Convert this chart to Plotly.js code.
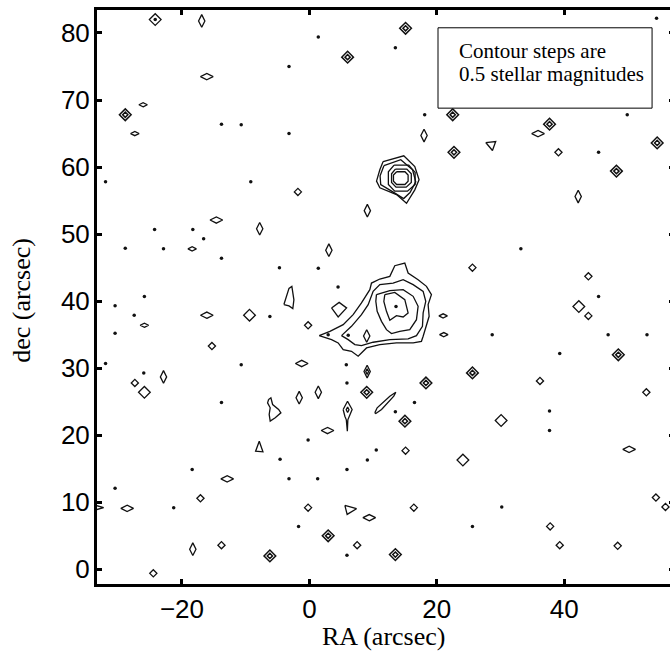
<!DOCTYPE html>
<html><head><meta charset="utf-8">
<script src="https://cdn.plot.ly/plotly-3.0.1.min.js"></script>
<style>html,body{margin:0;padding:0;overflow:hidden;background:#fff}#plot{width:674px;height:658px}</style>
</head><body><div id="plot"></div>
<script>
// ---- data (arcsec) ----
const xTicks = [-20, 0, 20, 40];
const yTicks = [0, 10, 20, 30, 40, 50, 60, 70, 80];

// isolated unresolved peaks (single tiny contour)
const dotX = [-3.2,-13.8,-10.7,-3.2,-32.0,-9.2,-24.3,-18.3,-16.6,-28.9,-22.9,-13.8,-4.7,-25.9,1.4,13.5,18.1,1.4,4.5,6.1,5.8,5.9,16.5,13.5,-0.2,10.5,9.1,5.9,1.3,-1.7,25.6,5.9,-30.5,-27.5,-6.2,-30.5,-10.7,-32.0,-13.8,-4.6,-18.4,-3.2,-30.5,-21.3,49.9,45.4,33.2,45.4,28.7,46.9,53.0,39.3,37.7,37.7,30.2,-26.0,54.5,13.6,2.95,-24.2];
const dotY = [75.0,66.4,66.3,65.0,57.8,57.8,50.7,50.7,49.3,47.9,47.8,46.4,45.0,40.7,79.4,77.8,67.8,44.9,42.1,34.9,30.5,27.8,24.9,23.5,19.3,17.8,16.3,14.9,13.5,6.4,6.4,2.1,39.3,37.9,37.7,35.2,30.5,30.7,24.9,16.4,14.9,13.5,12.1,9.2,67.8,62.2,47.8,40.7,35.0,35.0,35.0,32.2,23.6,20.7,9.3,29.3,82.2,39.2,35.0,82.0];

// small single closed contours
const loopX = [-1.8,-0.2,15.1,-0.2,16.4,7.5,-27.4,-17.1,-13.8,-24.5,39.1,25.6,43.8,43.8,36.2,52.9,54.4,55.9,37.8,39.3,48.4,-15.3];
const loopY = [56.3,36.4,17.7,9.2,9.2,3.6,27.8,10.6,3.6,-0.6,62.2,45.0,43.7,37.8,28.1,26.4,10.7,9.3,6.4,3.6,3.5,33.3];

// small flattened contours
const flatX = [-26.1,-27.4,-18.4,21.0,21.1,-25.9];
const flatY = [69.3,65.0,47.8,37.8,35.0,36.4];

// medium single contours
const midX = [-24.2,24.1,-25.9,30.1,-9.4,42.3];
const midY = [82.0,16.3,26.4,22.2,37.9,39.2];

// two nested contours
const dblX = [-28.9,15.1,6.0,22.5,22.7,9.0,18.3,15.0,2.95,13.5,-6.2,37.7,54.6,48.2,48.5,25.6];
const dblY = [67.8,80.7,76.4,67.8,62.2,26.4,27.8,22.1,5.0,2.2,2.0,66.4,63.6,59.4,32.0,29.3];

// vertically elongated contours
const tallX = [18.0,42.2,-22.9,-18.3,-16.9,3.06,-1.6,9.0,-7.8,9.1,1.4,9.07];
const tallY = [64.7,55.6,28.7,3.0,81.8,47.6,25.6,34.8,50.8,53.5,26.4,29.5];
const tallInnerX = [9.07,6.0];
const tallInnerY = [29.5,23.8];

// horizontally elongated contours
const wideX = [-16.1,-14.6,-16.1,-1.2,-12.9,-28.6,2.85,9.4,35.9,50.2];
const wideY = [73.5,52.1,37.9,30.7,13.5,9.1,20.7,7.7,65.0,17.9];

// extended source near (14, 40): four contour levels
const galaxy1 = [[1.54,34.86],[3.22,35.5],[5.31,36.5],[6.87,37.99],[8.18,39.73],[9.49,41.71],[9.75,42.7],[11.06,43.3],[12.63,43.7],[13.41,45.29],[14.98,45.68],[15.5,44.19],[17.07,43.2],[18.38,42.21],[19.16,40.97],[18.64,39.48],[18.8,37.74],[18.38,36.25],[17.86,34.76],[17.59,34.01],[16.29,33.77],[13.67,33.77],[11.06,33.52],[8.97,33.02],[7.66,31.78],[6.61,32.52],[5.31,32.77],[4.52,33.77],[3.48,34.26],[1.54,34.86]];
const galaxy2 = [[5.04,34.86],[6.61,36.25],[8.18,37.99],[9.23,39.48],[10.01,41.46],[11.06,42.46],[13.15,42.7],[14.72,43.2],[16.29,42.46],[17.86,41.46],[18.27,39.97],[17.86,38.24],[17.75,36.25],[16.81,34.86],[15.5,34.36],[12.63,34.26],[10.01,33.87],[8.18,33.37],[7.14,33.52],[6.09,34.26],[5.04,34.86]];
const galaxy3 = [[10.53,40.97],[12.63,41.56],[14.72,41.71],[16.29,40.72],[17.07,39.23],[16.81,37.24],[15.76,35.75],[14.19,35.5],[12.89,35.16],[12.1,35.75],[11.32,36.99],[10.64,38.48],[10.43,39.97],[10.53,40.97]];
const galaxy4 = [[11.84,40.97],[13.41,41.31],[14.98,40.22],[15.5,38.24],[14.72,37.64],[13.67,37.84],[12.63,37.14],[12.1,38.48],[11.69,39.97],[11.84,40.97]];

// bright star near (14, 58): five contour levels
const star1 = [[11.58,60.83],[14.82,61.68],[16.55,60.08],[17.22,58.1],[16.55,56.6],[15.25,54.6],[13.68,55.9],[11.06,56.9],[10.54,57.9],[11.06,59.6],[11.58,60.83]];
const star2 = [[11.7,60.2],[14.35,61.1],[16.2,59.6],[16.7,57.8],[15.8,56.2],[14.8,55.3],[13.1,56.3],[11.2,57.4],[11.1,58.7],[11.7,60.2]];
const star3 = [[13.3,60.3],[15.6,60.3],[16.6,59.2],[16.6,57.4],[15.4,56.4],[13.4,56.4],[12.4,57.4],[12.4,59.3],[13.3,60.3]];
const star4 = [[13.5,59.7],[15.3,59.7],[16.0,59.0],[16.0,57.7],[15.2,57.0],[13.6,57.0],[12.9,57.7],[12.9,59.0],[13.5,59.7]];
const star5 = [[13.7,59.3],[15.0,59.3],[15.5,58.8],[15.5,57.9],[15.0,57.4],[13.7,57.4],[13.2,57.9],[13.2,58.8],[13.7,59.3]];

// irregular single contours
const kiteA = [[3.48,38.99],[4.67,39.82],[5.84,38.99],[4.52,37.65],[3.48,38.99]];
const leafA = [[-4.0,39.5],[-3.2,41.9],[-2.75,42.2],[-2.43,40.2],[-2.6,38.9],[-3.2,39.3],[-4.0,39.5]];
const lobeA = [[-6.4,25.33],[-6.04,25.58],[-5.77,24.58],[-4.83,23.84],[-4.47,23.34],[-5.36,22.6],[-6.15,22.1],[-6.31,23.1],[-6.15,24.09],[-6.56,24.83],[-6.4,25.33]];
const triA = [[-7.87,19.11],[-7.29,17.53],[-8.44,17.62],[-7.87,19.11]];
const triB = [[5.57,9.53],[7.4,9.04],[5.93,8.19],[5.57,9.53]];
const triC = [[27.69,63.66],[29.25,63.81],[28.74,62.47],[27.69,63.66]];
const streakA = [[10.27,23.34],[10.64,24.09],[12.63,25.82],[13.57,26.41],[13.25,25.82],[11.33,23.84],[10.43,23.24],[10.27,23.34]];
const stemA = [[5.3,23.84],[5.99,25.07],[6.71,23.84],[6.35,22.84],[6.04,22.3],[5.96,20.6],[5.8,22.3],[5.57,22.84],[5.3,23.84]];
const edgeA = [[-33.4,9.5],[-32.3,9.2],[-33.4,8.9]];

const legendLines = ['Contour steps are', '0.5 stellar magnitudes'];

// ---- build traces ----
const ink = '#111';
const traces = [];
function loopTrace(pts, w) {
  traces.push({type:'scatter', mode:'lines', x:pts.map(p=>p[0]), y:pts.map(p=>p[1]),
    line:{color:ink, width:w||1.3}, hoverinfo:'skip', showlegend:false});
}
[galaxy1,galaxy2,galaxy3,galaxy4,star1,star2,star3,star4,star5,kiteA,leafA,lobeA,triA,triB,triC,streakA,stemA,edgeA].forEach(p=>loopTrace(p));

function markTrace(xs, ys, symbol, size, lw) {
  traces.push({type:'scatter', mode:'markers', x:xs, y:ys,
    marker:{symbol:symbol, size:size, color:ink, line:{color:ink, width:lw}},
    hoverinfo:'skip', showlegend:false});
}
markTrace(dotX, dotY, 'circle', 3.5, 0);
markTrace(loopX, loopY, 'diamond-open', 5.5, 1.3);
markTrace(flatX, flatY, 'diamond-wide-open', 6, 1.3);
markTrace(midX, midY, 'diamond-open', 9, 1.3);
markTrace(dblX, dblY, 'diamond-open', 9, 1.5);
markTrace(dblX, dblY, 'diamond-open', 4, 1.5);
markTrace(tallX, tallY, 'diamond-tall-open', 9, 1.3);
markTrace(tallInnerX, tallInnerY, 'diamond-tall-open', 4, 1.3);
markTrace(wideX, wideY, 'diamond-wide-open', 9, 1.3);

const axisCommon = {
  showgrid:false, zeroline:false, showline:true, linecolor:'#000', linewidth:3,
  mirror:'ticks', ticks:'inside', ticklen:5, tickwidth:3, tickcolor:'#000',
  tickfont:{family:'Liberation Sans, Arial, sans-serif', size:26, color:'#000'},
  tickmode:'array'
};

const layout = {
  width:674, height:658,
  margin:{l:97, r:0, t:10, b:74},
  paper_bgcolor:'#fff', plot_bgcolor:'#fff',
  xaxis:Object.assign({}, axisCommon, {range:[-33.34, 57.24], tickvals:xTicks, ticktext:xTicks.map(v=>v<0?'\u2212'+Math.abs(v):String(v))}),
  yaxis:Object.assign({}, axisCommon, {range:[-2.19, 83.43], tickvals:yTicks, ticktext:yTicks.map(String), ticklabelstandoff:-1}),
  shapes:[{type:'rect', xref:'paper', yref:'paper', x0:0.591, x1:0.962, y0:0.829, y1:0.969,
    line:{color:'#000', width:1}, fillcolor:'#fff', layer:'above'}],
  annotations:[
    {xref:'paper', yref:'paper', x:0.624, y:0.929, xanchor:'left', yanchor:'middle', showarrow:false,
      text:legendLines[0], font:{family:'Liberation Serif, Times New Roman, serif', size:21, color:'#000'}},
    {xref:'paper', yref:'paper', x:0.624, y:0.889, xanchor:'left', yanchor:'middle', showarrow:false,
      text:legendLines[1], font:{family:'Liberation Serif, Times New Roman, serif', size:21, color:'#000'}},
    {xref:'paper', yref:'paper', x:0.496, y:-0.0915, xanchor:'center', yanchor:'middle', showarrow:false,
      text:'RA (arcsec)', font:{family:'Liberation Serif, Times New Roman, serif', size:26, color:'#000'}},
    {xref:'paper', yref:'paper', x:-0.13, y:0.495, xanchor:'center', yanchor:'middle', showarrow:false, textangle:-90,
      text:'dec (arcsec)', font:{family:'Liberation Serif, Times New Roman, serif', size:26, color:'#000'}}
  ]
};

Plotly.newPlot('plot', traces, layout, {displayModeBar:false, staticPlot:true});
</script></body></html>
